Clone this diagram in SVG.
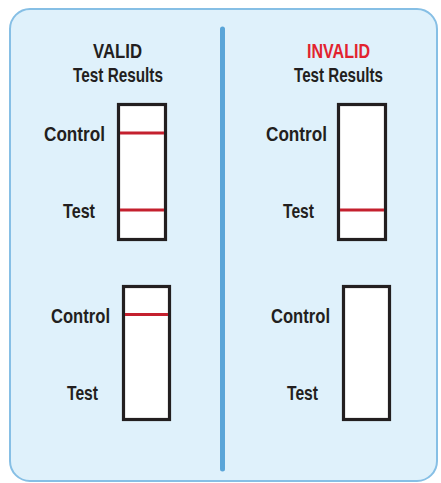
<svg xmlns="http://www.w3.org/2000/svg" width="441" height="483" viewBox="0 0 441 483">
<style>
.t{font-family:"Liberation Sans",Arial,sans-serif;font-weight:bold;font-size:21px;fill:#231f20}
.strip{fill:#ffffff;stroke:#231f20;stroke-width:3.2}
.band{stroke:#c4202e;stroke-width:3}
</style>
<rect width="441" height="483" fill="#ffffff"/>
<g id="panel">
<rect x="10" y="9" width="427" height="472" rx="20" fill="#dff1fb" stroke="#86bfe5" stroke-width="2"/>
</g>
<g id="connectors">
<line x1="222.5" y1="29" x2="222.5" y2="469" stroke="#5aa5d8" stroke-width="5" stroke-linecap="round"/>
</g>
<g id="valid-header">
<text class="t" x="117.5" y="58" text-anchor="middle" textLength="49" lengthAdjust="spacingAndGlyphs">VALID</text>
<text class="t" x="118" y="82" text-anchor="middle" textLength="90" lengthAdjust="spacingAndGlyphs">Test Results</text>
</g>
<g id="invalid-header">
<text class="t" x="338.5" y="58" text-anchor="middle" textLength="63" lengthAdjust="spacingAndGlyphs" style="fill:#e2232f">INVALID</text>
<text class="t" x="338.5" y="82" text-anchor="middle" textLength="89" lengthAdjust="spacingAndGlyphs">Test Results</text>
</g>
<g id="valid-1">
<text class="t" x="44" y="141" textLength="61" lengthAdjust="spacingAndGlyphs">Control</text>
<text class="t" x="63" y="218" textLength="32" lengthAdjust="spacingAndGlyphs">Test</text>
<rect class="strip" x="118.5" y="104.5" width="47" height="135"/>
<line class="band" x1="120" y1="133" x2="164" y2="133"/>
<line class="band" x1="120" y1="210" x2="164" y2="210"/>
</g>
<g id="invalid-1">
<text class="t" x="266" y="141" textLength="61" lengthAdjust="spacingAndGlyphs">Control</text>
<text class="t" x="283" y="218" textLength="31" lengthAdjust="spacingAndGlyphs">Test</text>
<rect class="strip" x="338.5" y="104.5" width="47" height="135"/>
<line class="band" x1="340" y1="210" x2="384" y2="210"/>
</g>
<g id="valid-2">
<text class="t" x="51" y="323" textLength="59" lengthAdjust="spacingAndGlyphs">Control</text>
<text class="t" x="67" y="400" textLength="31" lengthAdjust="spacingAndGlyphs">Test</text>
<rect class="strip" x="123.5" y="286.5" width="46" height="133"/>
<line class="band" x1="125" y1="314.5" x2="168" y2="314.5"/>
</g>
<g id="invalid-2">
<text class="t" x="271" y="323" textLength="59" lengthAdjust="spacingAndGlyphs">Control</text>
<text class="t" x="287" y="400" textLength="31" lengthAdjust="spacingAndGlyphs">Test</text>
<rect class="strip" x="343.5" y="286.5" width="46" height="133"/>
</g>
</svg>
